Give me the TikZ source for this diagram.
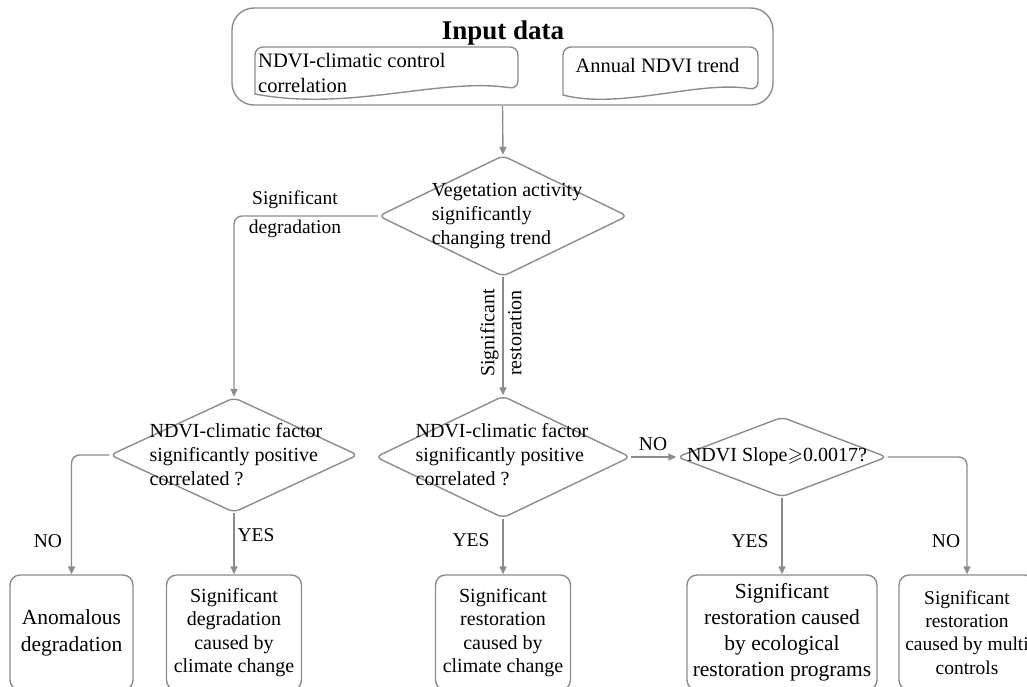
\documentclass[tikz,border=0pt]{standalone}
\usepackage{amssymb}
\usepackage{fontspec}
\setmainfont{Liberation Serif}
\usetikzlibrary{shapes.geometric,arrows.meta}
\definecolor{lg}{RGB}{140,140,140}
\begin{document}
\begin{tikzpicture}[x=1pt,y=-1pt,
  line/.style={draw=lg, line width=1.4pt},
  conn/.style={line, -{Triangle[length=8pt,width=7pt]}, rounded corners=8pt},
  dia/.style={diamond, draw=lg, line width=1.4pt, inner sep=0pt, rounded corners=6pt},
  box/.style={draw=lg, line width=1.4pt, rounded corners=10pt, minimum height=115pt, inner sep=0pt, align=center},
  lbl/.style={font=\fontsize{19.5}{23}\selectfont, inner sep=0pt},
  dtext/.style={font=\fontsize{20}{24}\selectfont, align=left, inner sep=0pt},
  intext/.style={font=\fontsize{20.5}{25}\selectfont, align=left, inner sep=0pt}
]
\useasboundingbox (0,0) rectangle (1027,686);
\clip (0,0) rectangle (1027,686);

% input data
\node[draw=lg, line width=1.4pt, rounded corners=22pt, minimum width=541pt, minimum height=97pt, inner sep=0pt] (input) at (502.5,56.5) {};
\node[font=\fontsize{27}{30}\selectfont\bfseries, inner sep=0pt] (title) at (503,33) {Input data};
\node[intext, anchor=west] (corr) at (258,73) {NDVI-climatic control\\correlation};
\node[intext] (trend) at (657.5,66) {Annual NDVI trend};
\draw[line, rounded corners=8pt] (255,94) -- (255,47) -- (518,47) -- (518,89) [sharp corners] .. controls (440,77) and (350,112) .. (255,94) -- cycle;
\draw[line, rounded corners=8pt] (563,95) -- (563,47) -- (758,47) -- (758,90) [sharp corners] .. controls (700,80) and (620,110) .. (563,95) -- cycle;

% decisions
\node[dia, minimum width=249pt, minimum height=121pt] (d1) at (503,216) {};
\node[dtext] (d1t) at (507,216) {Vegetation activity\\significantly\\changing trend};
\node[dia, minimum width=248pt, minimum height=115pt] (d2) at (234,455) {};
\node[dtext] (d2t) at (236,455) {NDVI-climatic factor\\significantly positive\\correlated ?};
\node[dia, minimum width=255pt, minimum height=122pt] (d3) at (503,457) {};
\node[dtext] (d3t) at (502,455) {NDVI-climatic factor\\significantly positive\\correlated ?};
\node[dia, minimum width=210pt, minimum height=80pt] (d4) at (782,457) {};
\node[dtext] (d4t) at (777,457) {NDVI Slope$\geqslant$0.0017?};

% outcomes
\node[box, minimum width=123pt, font=\fontsize{21.5}{27}\selectfont] (b1) at (71.5,632.5) {Anomalous\\degradation};
\node[box, minimum width=135pt, font=\fontsize{20}{23.5}\selectfont] (b2) at (234,632.5) {Significant\\degradation\\caused by\\climate change};
\node[box, minimum width=135pt, font=\fontsize{20}{23.5}\selectfont] (b3) at (503,632.5) {Significant\\restoration\\caused by\\climate change};
\node[box, minimum width=190pt, font=\fontsize{21.5}{26}\selectfont] (b4) at (782,632.5) {Significant\\restoration caused\\by ecological\\restoration programs};
\node[box, minimum width=136pt, font=\fontsize{19.5}{23.3}\selectfont] (b5) at (967,632.5) {Significant\\restoration\\caused by multi\\controls};

% connectors
\draw[conn] (input.south) -- (d1.north);
\draw[conn] (d1.west) -| (d2.north);
\draw[conn] (d1.south) -- (d3.north);
\draw[conn] (d2.west) -| (b1.north);
\draw[conn] (d2.south) -- (b2.north);
\draw[conn] (d3.south) -- (b3.north);
\draw[conn] (d3.east) -- (d4.west);
\draw[conn] (d4.south) -- (b4.north);
\draw[conn] (d4.east) -| (b5.north);

% labels
\node[lbl, align=center, font=\fontsize{19.5}{28.5}\selectfont] (ldeg) at (295,214) {Significant\\degradation};
\node[lbl, rotate=90, align=center, font=\fontsize{20}{27}\selectfont] (lres) at (501,333) {Significant\\restoration};
\node[lbl] (lno1) at (48,541) {NO};
\node[lbl] (lyes1) at (256,535) {YES};
\node[lbl] (lyes2) at (471,540) {YES};
\node[lbl] (lno2) at (653,444) {NO};
\node[lbl] (lyes3) at (750,541) {YES};
\node[lbl] (lno3) at (946,541) {NO};
\end{tikzpicture}
\end{document}
